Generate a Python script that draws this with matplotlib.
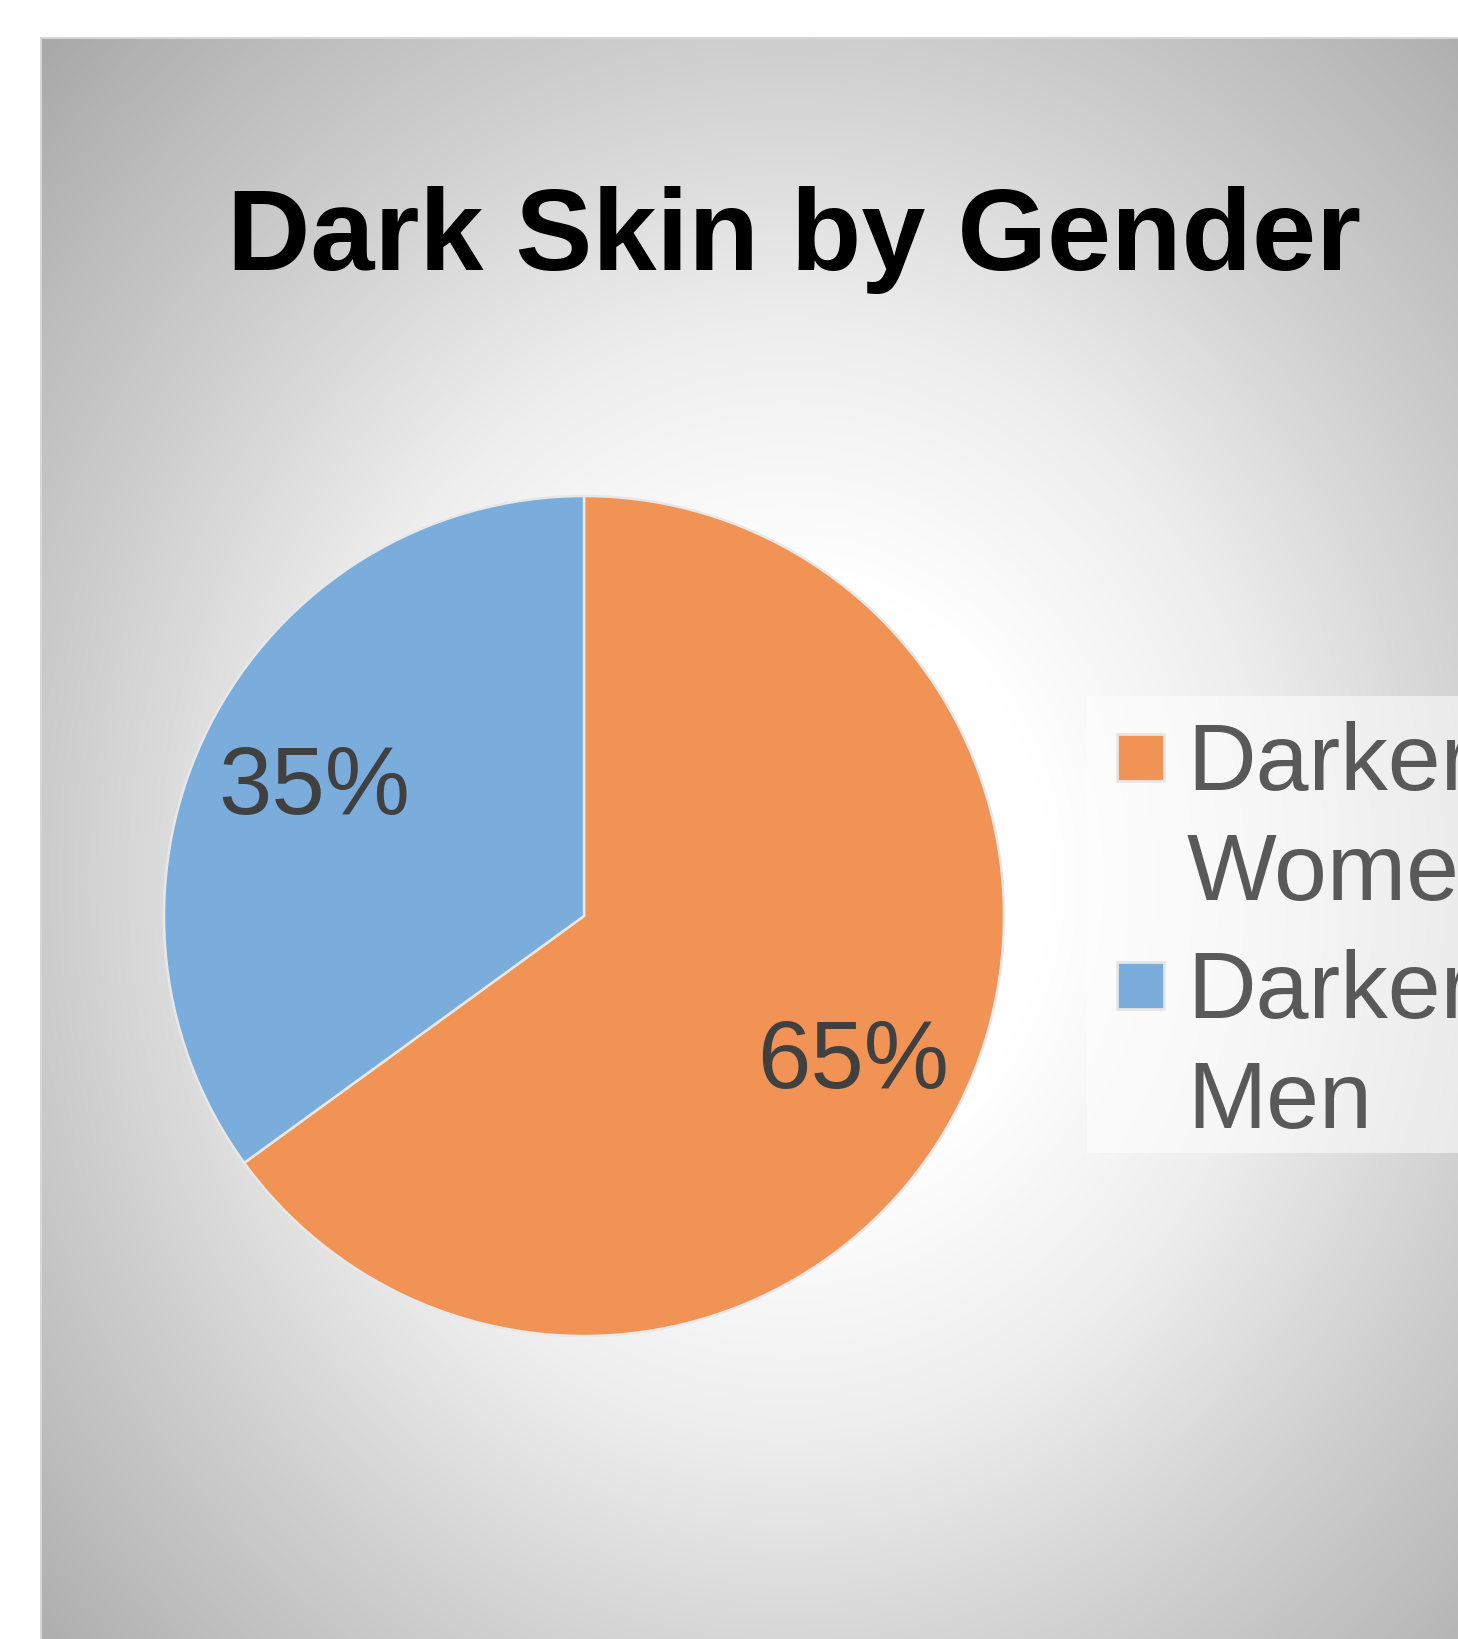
import numpy as np
import matplotlib.pyplot as plt
from matplotlib.patches import Rectangle

plt.rcParams['font.family'] = ['Liberation Sans', 'DejaVu Sans']

# data
groups = ['Darker Women', 'Darker Men']
shares = [65, 35]
colors = ['#F19355', '#7AADDC']
title = 'Dark Skin by Gender'

W, H = 1458, 1639
fig = plt.figure(figsize=(W / 100, H / 100), dpi=100)

# chart area: grey radial gradient, cut off at right and bottom
x0, y0 = 41, 38
bg = fig.add_axes([x0 / W, 0, 1 - x0 / W, 1 - y0 / H])
X, Y = np.meshgrid(np.arange(x0, W) + 0.5, np.arange(y0, H) + 0.5)
d = np.hypot((X - 790) / 740, (Y - 880) / 850) / np.sqrt(2)
grey = np.interp(d, [0, 0.25, 0.46, 0.707, 0.85, 1.0, 1.3],
                 [255, 255, 238, 205, 188, 168, 158]) / 255
bg.imshow(np.dstack([grey] * 3), extent=(0, 1, 0, 1), aspect='auto')
bg.set_xticks([])
bg.set_yticks([])
for side in ['right', 'bottom']:
    bg.spines[side].set_visible(False)
for side in ['left', 'top']:
    bg.spines[side].set_color('#d6d6d6')
    bg.spines[side].set_linewidth(1.5)

# pie
cx, cy, r, R = 584, 916, 420, 430
ax = fig.add_axes([(cx - R) / W, 1 - (cy + R) / H, 2 * R / W, 2 * R / H])
wedges, _, pcts = ax.pie(shares, colors=colors, startangle=90, counterclock=False,
                         autopct='%1.0f%%', pctdistance=0.72,
                         wedgeprops=dict(edgecolor='#e8e8e8', linewidth=1.8),
                         textprops=dict(fontsize=69, color='#404040'))
for t in pcts:
    t.set_va('center_baseline')
ax.set_xlim(-R / r, R / r)
ax.set_ylim(-R / r, R / r)
ax.axis('off')

fig.text(794 / W, 1 - 270 / H, title, ha='center', va='baseline',
         fontsize=83, fontweight='bold', color='black')

# legend (drawn by hand so the marker sits on the first text line)
fig.add_artist(Rectangle((1087 / W, 1 - 1153 / H), (W - 1087) / W, (1153 - 696) / H,
                         transform=fig.transFigure, facecolor='white', alpha=0.55,
                         edgecolor='none'))
for i, (w, lab) in enumerate(zip(wedges, groups)):
    top = 734 + 228 * i
    fig.add_artist(Rectangle((1117 / W, 1 - (top + 47) / H), 47 / W, 47 / H,
                             transform=fig.transFigure, facecolor=w.get_facecolor(),
                             edgecolor='#e6e6e6', linewidth=2))
    # baseline of the second line of the label
    fig.text(1187 / W, 1 - (900 + 228 * i) / H, lab.replace(' ', '\n'),
             ha='left', va='baseline', fontsize=68.5, color='#595959', linespacing=1.31)

fig.savefig('out.png', dpi=100)
